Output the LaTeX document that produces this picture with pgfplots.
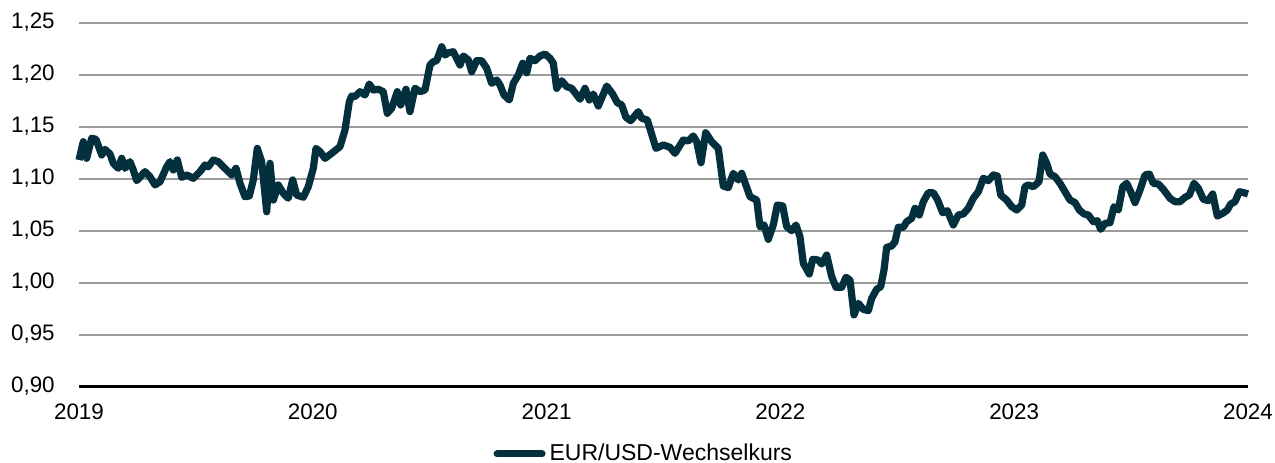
\documentclass[border=0pt]{standalone}
\usepackage{fontspec}
\setmainfont{Liberation Sans}
\usepackage{pgfplots}
\pgfplotsset{compat=1.18}
\definecolor{eur}{RGB}{4,47,61}
\definecolor{gridc}{RGB}{155,155,155}
\begin{document}
\fontsize{11bp}{13bp}\selectfont
\begin{tikzpicture}
\begin{axis}[
  at={(0,0)}, anchor=south west,
  scale only axis, width=584.5bp, height=182bp,
  xmin=2019, xmax=2024, ymin=0.9, ymax=1.25,
  xtick={2019,2020,2021,2022,2023,2024},
  xticklabels={2019,2020,2021,2022,2023,2024},
  ytick={0.90,0.95,1.00,1.05,1.10,1.15,1.20,1.25},
  yticklabels={{0,90},{0,95},{1,00},{1,05},{1,10},{1,15},{1,20},{1,25}},
  axis x line*=bottom, axis y line*=left,
  x axis line style={black, line width=1.5bp},
  y axis line style={draw=none},
  major tick length=0,
  ymajorgrids, grid style={gridc, line width=1bp},
  tick label style={font=\fontsize{11.2bp}{13bp}\selectfont, black},
  yticklabel style={xshift=-8.3bp},
  xticklabel style={yshift=-4.6bp},
  clip=false,
  legend style={at={(0.484,-0.1854)}, anchor=center, draw=none, fill=none,
    font=\fontsize{11.5bp}{13bp}\selectfont},
  legend cell align=left,
  legend image code/.code={\draw[#1, line width=3.5bp, line cap=round] (0bp,0bp) -- (22.5bp,0bp);},
]
\addplot[eur, line width=3.6bp, line join=round] coordinates {
(2019.0000,1.1178)(2019.0184,1.1354)(2019.0329,1.1194)(2019.0543,1.1387)(2019.0727,1.1377)
(2019.0971,1.1226)(2019.1112,1.1280)(2019.1326,1.1236)(2019.1467,1.1146)(2019.1681,1.1098)
(2019.1826,1.1194)(2019.1967,1.1098)(2019.2181,1.1162)(2019.2322,1.1082)(2019.2468,1.0979)
(2019.2823,1.1066)(2019.3037,1.1017)(2019.3251,1.0938)(2019.3465,1.0969)(2019.3751,1.1113)
(2019.3892,1.1162)(2019.4033,1.1082)(2019.4204,1.1178)(2019.4393,1.1011)(2019.4606,1.1034)
(2019.4889,1.1002)(2019.5175,1.1066)(2019.5389,1.1130)(2019.5530,1.1113)(2019.5744,1.1178)
(2019.5958,1.1162)(2019.6172,1.1113)(2019.6386,1.1066)(2019.6531,1.1034)(2019.6715,1.1098)
(2019.6886,1.0954)(2019.7100,1.0825)(2019.7284,1.0832)(2019.7455,1.0986)(2019.7626,1.1290)
(2019.7814,1.1162)(2019.8028,1.0680)(2019.8169,1.1146)(2019.8311,1.0793)(2019.8524,1.0938)
(2019.8738,1.0858)(2019.8952,1.0810)(2019.9140,1.0986)(2019.9311,1.0841)(2019.9594,1.0820)
(2019.9807,1.0921)(2020.0021,1.1098)(2020.0137,1.1290)(2020.0308,1.1258)(2020.0522,1.1194)
(2020.0809,1.1242)(2020.1163,1.1306)(2020.1377,1.1466)(2020.1561,1.1738)(2020.1664,1.1793)
(2020.1805,1.1787)(2020.2019,1.1835)(2020.2233,1.1803)(2020.2417,1.1909)(2020.2588,1.1851)
(2020.2802,1.1858)(2020.3016,1.1835)(2020.3186,1.1627)(2020.3375,1.1675)(2020.3614,1.1835)
(2020.3760,1.1707)(2020.3986,1.1858)(2020.4157,1.1643)(2020.4371,1.1868)(2020.4585,1.1835)
(2020.4799,1.1851)(2020.5013,1.2091)(2020.5154,1.2123)(2020.5299,1.2133)(2020.5513,1.2267)
(2020.5654,1.2187)(2020.5796,1.2209)(2020.6009,1.2219)(2020.6296,1.2091)(2020.6437,1.2178)
(2020.6651,1.2140)(2020.6796,1.2027)(2020.7010,1.2133)(2020.7224,1.2133)(2020.7438,1.2060)
(2020.7652,1.1915)(2020.7866,1.1947)(2020.8007,1.1899)(2020.8178,1.1803)(2020.8404,1.1755)
(2020.8576,1.1915)(2020.8790,1.1995)(2020.8978,1.2108)(2020.9149,1.2017)(2020.9290,1.2156)
(2020.9504,1.2133)(2020.9718,1.2178)(2020.9932,1.2197)(2021.0146,1.2156)(2021.0287,1.2108)
(2021.0432,1.1867)(2021.0646,1.1940)(2021.0860,1.1883)(2021.1074,1.1867)(2021.1429,1.1762)
(2021.1643,1.1867)(2021.1827,1.1755)(2021.1998,1.1812)(2021.2211,1.1697)(2021.2571,1.1889)
(2021.2827,1.1812)(2021.3024,1.1729)(2021.3212,1.1707)(2021.3396,1.1588)(2021.3597,1.1556)
(2021.3922,1.1643)(2021.4068,1.1579)(2021.4307,1.1563)(2021.4679,1.1290)(2021.4991,1.1322)
(2021.5278,1.1300)(2021.5492,1.1242)(2021.5847,1.1370)(2021.6061,1.1361)(2021.6275,1.1409)
(2021.6420,1.1354)(2021.6604,1.1152)(2021.6805,1.1440)(2021.7062,1.1354)(2021.7344,1.1290)
(2021.7558,1.0928)(2021.7772,1.0912)(2021.7986,1.1050)(2021.8199,1.0986)(2021.8345,1.1050)
(2021.8700,1.0825)(2021.8987,1.0793)(2021.9127,1.0537)(2021.9299,1.0553)(2021.9482,1.0415)
(2021.9696,1.0553)(2021.9867,1.0745)(2022.0098,1.0736)(2022.0269,1.0537)(2022.0483,1.0498)
(2022.0667,1.0553)(2022.0838,1.0440)(2022.0980,1.0185)(2022.1236,1.0082)(2022.1381,1.0223)
(2022.1621,1.0216)(2022.1766,1.0178)(2022.1980,1.0264)(2022.2194,1.0056)(2022.2378,0.9954)
(2022.2622,0.9954)(2022.2806,1.0050)(2022.2977,1.0024)(2022.3148,0.9688)(2022.3332,0.9800)
(2022.3546,0.9742)(2022.3760,0.9729)(2022.3905,0.9848)(2022.4119,0.9935)(2022.4290,0.9960)
(2022.4431,1.0120)(2022.4546,1.0338)(2022.4760,1.0351)(2022.4902,1.0392)(2022.5043,1.0531)
(2022.5257,1.0531)(2022.5402,1.0585)(2022.5616,1.0617)(2022.5757,1.0713)(2022.5941,1.0649)
(2022.6112,1.0777)(2022.6326,1.0863)(2022.6540,1.0863)(2022.6711,1.0800)(2022.6942,1.0671)
(2022.7139,1.0690)(2022.7396,1.0553)(2022.7609,1.0649)(2022.7823,1.0659)(2022.8037,1.0713)
(2022.8251,1.0810)(2022.8465,1.0873)(2022.8679,1.1002)(2022.8893,1.0979)(2022.9107,1.1034)
(2022.9278,1.1024)(2022.9423,1.0841)(2022.9679,1.0793)(2022.9893,1.0729)(2023.0107,1.0697)
(2023.0321,1.0745)(2023.0462,1.0921)(2023.0603,1.0938)(2023.0817,1.0921)(2023.1061,1.0969)
(2023.1219,1.1226)(2023.1390,1.1146)(2023.1531,1.1043)(2023.1745,1.1017)(2023.1959,1.0954)
(2023.2173,1.0873)(2023.2387,1.0793)(2023.2601,1.0768)(2023.2785,1.0697)(2023.2986,1.0659)
(2023.3170,1.0649)(2023.3384,1.0585)(2023.3555,1.0594)(2023.3700,1.0511)(2023.3884,1.0569)
(2023.4098,1.0575)(2023.4269,1.0729)(2023.4453,1.0697)(2023.4641,1.0921)(2023.4812,1.0954)
(2023.4983,1.0873)(2023.5167,1.0768)(2023.5381,1.0889)(2023.5595,1.1034)(2023.5779,1.1043)
(2023.5950,1.0954)(2023.6164,1.0947)(2023.6378,1.0896)(2023.6664,1.0810)(2023.6878,1.0777)
(2023.7092,1.0777)(2023.7306,1.0819)(2023.7490,1.0841)(2023.7691,1.0954)(2023.7875,1.0906)
(2023.8089,1.0800)(2023.8303,1.0787)(2023.8491,1.0851)(2023.8687,1.0639)(2023.8918,1.0665)
(2023.9115,1.0697)(2023.9260,1.0755)(2023.9444,1.0777)(2023.9632,1.0873)(2023.9829,1.0863)
(2024.0000,1.0851)
};
\addlegendentry{EUR/USD-Wechselkurs}
\end{axis}
\pgfresetboundingbox
\path (-39.5bp,-38.25bp) rectangle (598bp,193.25bp);
\end{tikzpicture}
\end{document}
